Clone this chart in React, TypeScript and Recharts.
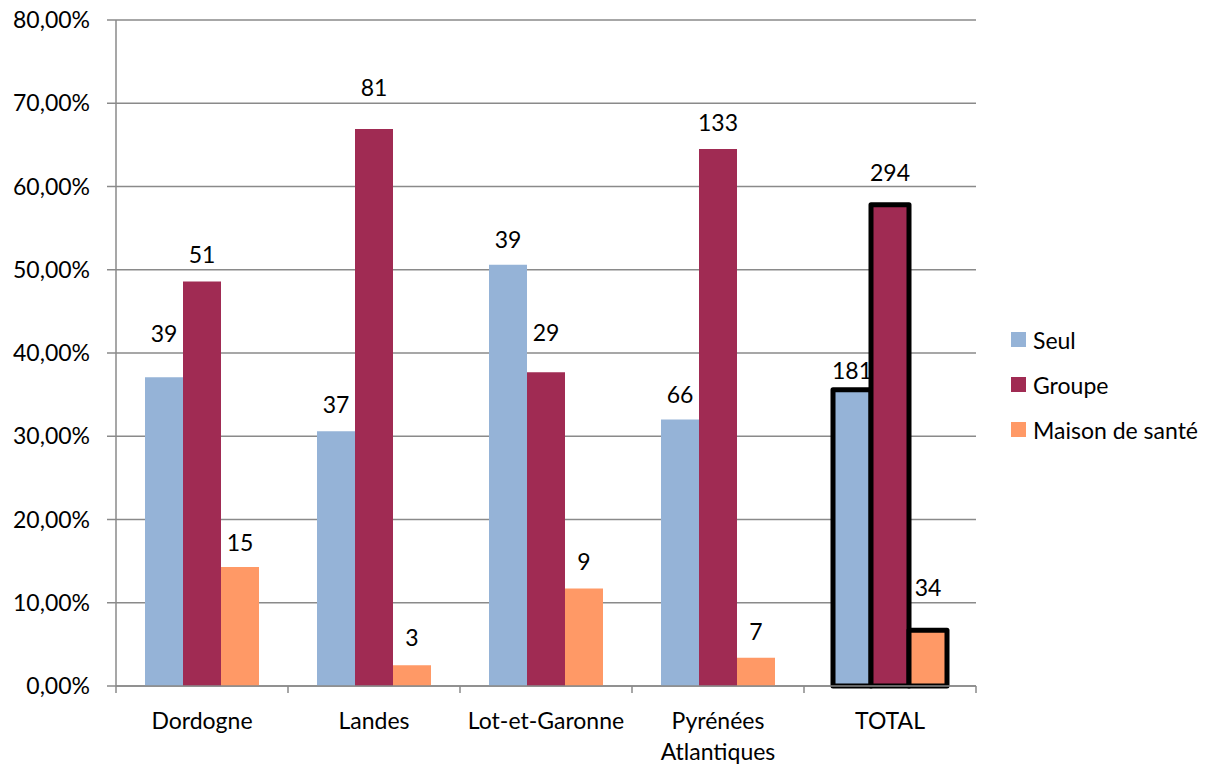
import React from "react";
import {
  BarChart,
  Bar,
  Cell,
  XAxis,
  YAxis,
  CartesianGrid,
  Legend,
  LabelList,
} from "recharts";

// categories and values (percent of each department)
const categories = ["Dordogne", "Landes", "Lot-et-Garonne", "Pyrénées Atlantiques", "TOTAL"];
const seulPct = [37.1, 30.6, 50.6, 32.0, 35.6];
const groupePct = [48.6, 66.9, 37.7, 64.5, 57.8];
const maisonPct = [14.3, 2.5, 11.7, 3.4, 6.7];

// counts shown above the bars
const seulCount = [39, 37, 39, 66, 181];
const groupeCount = [51, 81, 29, 133, 294];
const maisonCount = [15, 3, 9, 7, 34];

const yTicks = [0, 10, 20, 30, 40, 50, 60, 70, 80];

const seriesNames = ["Seul", "Groupe", "Maison de santé"];
const COLORS = ["#95B3D7", "#A02B53", "#FF9966"];

const WIDTH = 1220;
const HEIGHT = 764;
const MARGIN = { top: 20, right: 244, left: 0, bottom: 0 };
const Y_AXIS_W = 116;
const BAND = (WIDTH - MARGIN.right - Y_AXIS_W) / categories.length;
const GRID = "#8a8a8a";
const FONT = 23;

// Excel had a few labels dragged higher than the rest
const LABEL_LIFT: Record<string, number[]> = {
  seul: [44, 27, 26, 26, 20],
  groupe: [27, 42, 40, 27, 33],
  maison: [25, 28, 28, 27, 43],
};

const data = categories.map((name, i) => ({
  name,
  seul: seulPct[i],
  groupe: groupePct[i],
  maison: maisonPct[i],
  seulN: seulCount[i],
  groupeN: groupeCount[i],
  maisonN: maisonCount[i],
}));

const fmtPct = (v: number) => `${v.toFixed(2).replace(".", ",")}%`;

const makeLabel = (key: string) => (props: any) => {
  const { x, y, width, value, index } = props;
  const lift = LABEL_LIFT[key][index] ?? 27;
  return (
    <text
      x={Number(x) + Number(width) / 2}
      y={Number(y) - lift}
      textAnchor="middle"
      dominantBaseline="central"
      fontSize={FONT}
      fill="#000"
    >
      {value}
    </text>
  );
};

const CategoryTick = (props: any) => {
  const { x, y, payload, index } = props;
  const axisY = y - 26;
  const last = index === categories.length - 1;
  const lines = String(payload.value).split(" ");
  return (
    <g>
      <line x1={x - BAND / 2} y1={axisY} x2={x - BAND / 2} y2={axisY + 7} stroke={GRID} strokeWidth={1.5} />
      {last && (
        <line x1={x + BAND / 2} y1={axisY} x2={x + BAND / 2} y2={axisY + 7} stroke={GRID} strokeWidth={1.5} />
      )}
      <text textAnchor="middle" fontSize={FONT} fill="#000">
        {lines.map((ln, i) => (
          <tspan key={ln} x={x} y={axisY + 34 + i * 31} dominantBaseline="central">
            {ln}
          </tspan>
        ))}
      </text>
    </g>
  );
};

const LegendBox = (props: any) => {
  const items = [...(props.payload || [])].sort(
    (a: any, b: any) => seriesNames.indexOf(a.value) - seriesNames.indexOf(b.value)
  );
  return (
    <div>
      {items.map((item: any) => (
        <div
          key={item.value}
          style={{ display: "flex", alignItems: "center", height: 45, fontSize: FONT, color: "#000" }}
        >
          <span style={{ width: 15, height: 15, background: item.color, marginRight: 7, display: "inline-block" }} />
          <span>{item.value}</span>
        </div>
      ))}
    </div>
  );
};

const App: React.FC = () => {
  const isTotal = (name: string) => name === "TOTAL";
  return (
    <div style={{ position: "absolute", left: 0, top: 0, fontFamily: "Lato, sans-serif", background: "#fff" }}>
      <BarChart width={WIDTH} height={HEIGHT} data={data} margin={MARGIN} barSize={38} barGap={0}>
        <CartesianGrid vertical={false} stroke={GRID} strokeWidth={1.5} />
        <XAxis
          dataKey="name"
          height={HEIGHT - 686}
          axisLine={{ stroke: GRID, strokeWidth: 1.5 }}
          tickLine={false}
          tickSize={7}
          tickMargin={19}
          interval={0}
          tick={<CategoryTick />}
        />
        <YAxis
          width={Y_AXIS_W}
          domain={[0, 80]}
          ticks={yTicks}
          tickFormatter={fmtPct}
          axisLine={{ stroke: GRID, strokeWidth: 1.5 }}
          tickLine={{ stroke: GRID, strokeWidth: 1.5 }}
          tickSize={9}
          tickMargin={17}
          tick={{ fontSize: FONT, fill: "#000" }}
        />
        <Legend
          layout="vertical"
          align="center"
          verticalAlign="middle"
          content={<LegendBox />}
          wrapperStyle={{ left: 1011, top: 317, width: 210 }}
        />
        <Bar dataKey="seul" name={seriesNames[0]} fill={COLORS[0]} isAnimationActive={false}>
          {data.map((d) => (
            <Cell
              key={`s-${d.name}`}
              fill={COLORS[0]}
              stroke={isTotal(d.name) ? "#000" : "none"}
              strokeWidth={isTotal(d.name) ? 5 : 0}
              strokeLinejoin="round"
            />
          ))}
          <LabelList dataKey="seulN" content={makeLabel("seul")} />
        </Bar>
        <Bar dataKey="groupe" name={seriesNames[1]} fill={COLORS[1]} isAnimationActive={false}>
          {data.map((d) => (
            <Cell
              key={`g-${d.name}`}
              fill={COLORS[1]}
              stroke={isTotal(d.name) ? "#000" : "none"}
              strokeWidth={isTotal(d.name) ? 5 : 0}
              strokeLinejoin="round"
            />
          ))}
          <LabelList dataKey="groupeN" content={makeLabel("groupe")} />
        </Bar>
        <Bar dataKey="maison" name={seriesNames[2]} fill={COLORS[2]} isAnimationActive={false}>
          {data.map((d) => (
            <Cell
              key={`m-${d.name}`}
              fill={COLORS[2]}
              stroke={isTotal(d.name) ? "#000" : "none"}
              strokeWidth={isTotal(d.name) ? 5 : 0}
              strokeLinejoin="round"
            />
          ))}
          <LabelList dataKey="maisonN" content={makeLabel("maison")} />
        </Bar>
      </BarChart>
    </div>
  );
};

export default App;
